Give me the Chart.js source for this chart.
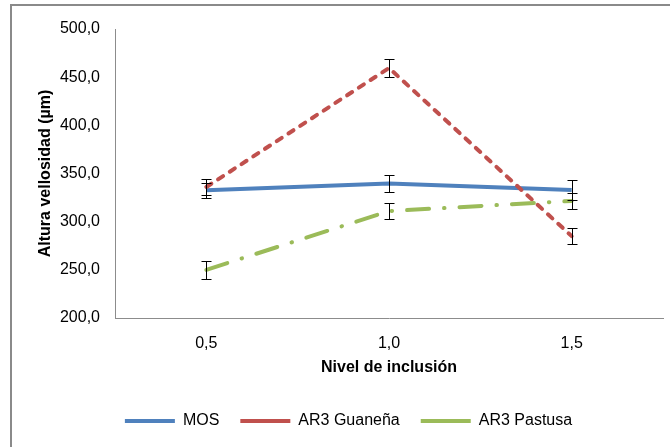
<!DOCTYPE html>
<html><head><meta charset="utf-8">
<script src="https://cdn.jsdelivr.net/npm/chart.js@4.4.1/dist/chart.umd.min.js"></script>
<style>
html,body{margin:0;padding:0;background:#fff;}
#wrap{position:relative;width:670px;height:447px;overflow:hidden;}
#frame{position:absolute;left:10px;top:4px;width:700px;height:500px;border-left:2px solid #8a8a8a;border-top:2px solid #8a8a8a;}
canvas{position:absolute;left:0;top:0;}
</style></head><body>
<div id="wrap"><div id="frame"></div><canvas id="c" width="670" height="447"></canvas></div>
<script>
const categories = ['0,5', '1,0', '1,5'];
const mos = [332.5, 339.5, 333];
const mosErr = [8, 9, 10.5];
const guanena = [336, 459.5, 285];
const guanenaErr = [8.5, 9.5, 8];
const pastusa = [250, 311, 321.5];
const pastusaErr = [9, 8.5, 8];
const yMin = 200, yMax = 500, yStep = 50;

const FONT = "'Liberation Sans', Arial, sans-serif";

const errorBars = {
  id: 'errorBars',
  afterDatasetsDraw(chart) {
    const ctx = chart.ctx;
    const ys = chart.scales.y;
    chart.data.datasets.forEach((ds, i) => {
      const meta = chart.getDatasetMeta(i);
      meta.data.forEach((pt, j) => {
        const e = ds.errors[j];
        const top = Math.round(ys.getPixelForValue(ds.data[j] + e)) + 0.5;
        const bot = Math.round(ys.getPixelForValue(ds.data[j] - e)) + 0.5;
        const x = Math.round(pt.x) + 0.5;
        ctx.save();
        ctx.strokeStyle = '#000';
        ctx.lineWidth = 1;
        ctx.setLineDash([]);
        ctx.beginPath();
        ctx.moveTo(x, top); ctx.lineTo(x, bot);
        ctx.moveTo(x - 5, top); ctx.lineTo(x + 5, top);
        ctx.moveTo(x - 5, bot); ctx.lineTo(x + 5, bot);
        ctx.stroke();
        ctx.restore();
      });
    });
  }
};

new Chart(document.getElementById('c'), {
  type: 'line',
  data: {
    labels: categories,
    datasets: [
      { label: 'MOS', data: mos, errors: mosErr, borderColor: '#4F81BD', borderWidth: 4,
        borderCapStyle: 'butt', pointRadius: 0, tension: 0, order: 3 },
      { label: 'AR3 Guaneña', data: guanena, errors: guanenaErr, borderColor: '#C0504D', borderWidth: 4,
        borderDash: [6, 8], borderCapStyle: 'round', pointRadius: 0, tension: 0, order: 2 },
      { label: 'AR3 Pastusa', data: pastusa, errors: pastusaErr, borderColor: '#9BBB59', borderWidth: 4,
        borderDash: [22, 15, 0.5, 15], borderCapStyle: 'round', pointRadius: 0, tension: 0, order: 1 }
    ]
  },
  options: {
    responsive: false,
    animation: false,
    devicePixelRatio: 1,
    layout: { padding: { left: 34, right: 7, top: 29, bottom: 8 } },
    plugins: {
      tooltip: { enabled: false },
      legend: {
        position: 'bottom',
        labels: {
          font: { family: FONT, size: 16 },
          color: '#000',
          usePointStyle: true,
          pointStyle: 'line',
          pointStyleWidth: 50,
          padding: 21,
          sort: (a, b) => a.datasetIndex - b.datasetIndex,
          generateLabels(chart) {
            const items = Chart.defaults.plugins.legend.labels.generateLabels(chart);
            items.forEach(it => { it.pointStyle = 'line'; if (it.datasetIndex === 2) it.lineDashOffset = 29; });
            return items;
          }
        }
      }
    },
    scales: {
      x: {
        type: 'category',
        offset: true,
        grid: { display: false, drawTicks: false },
        border: { display: true, color: '#8c8c8c', width: 1 },
        ticks: { font: { family: FONT, size: 16 }, color: '#000', padding: 16 },
        title: { display: true, text: 'Nivel de inclusión', font: { family: FONT, size: 16, weight: 'bold' }, color: '#000', padding: { top: 0, bottom: 15 } },
        afterFit(scale) { scale.height = 74; }
      },
      y: {
        min: yMin, max: yMax,
        grid: { display: false, drawTicks: false },
        border: { display: true, color: '#8c8c8c', width: 1 },
        ticks: { stepSize: yStep, font: { family: FONT, size: 16 }, color: '#000', padding: 15,
          callback: v => v.toFixed(1).replace('.', ',') },
        title: { display: true, text: 'Altura vellosidad (µm)', font: { family: FONT, size: 16, weight: 'bold' }, color: '#000', padding: { top: 2, bottom: 0 } },
        afterFit(scale) { scale.width = 81; }
      }
    }
  },
  plugins: [errorBars]
});
</script>
</body></html>
